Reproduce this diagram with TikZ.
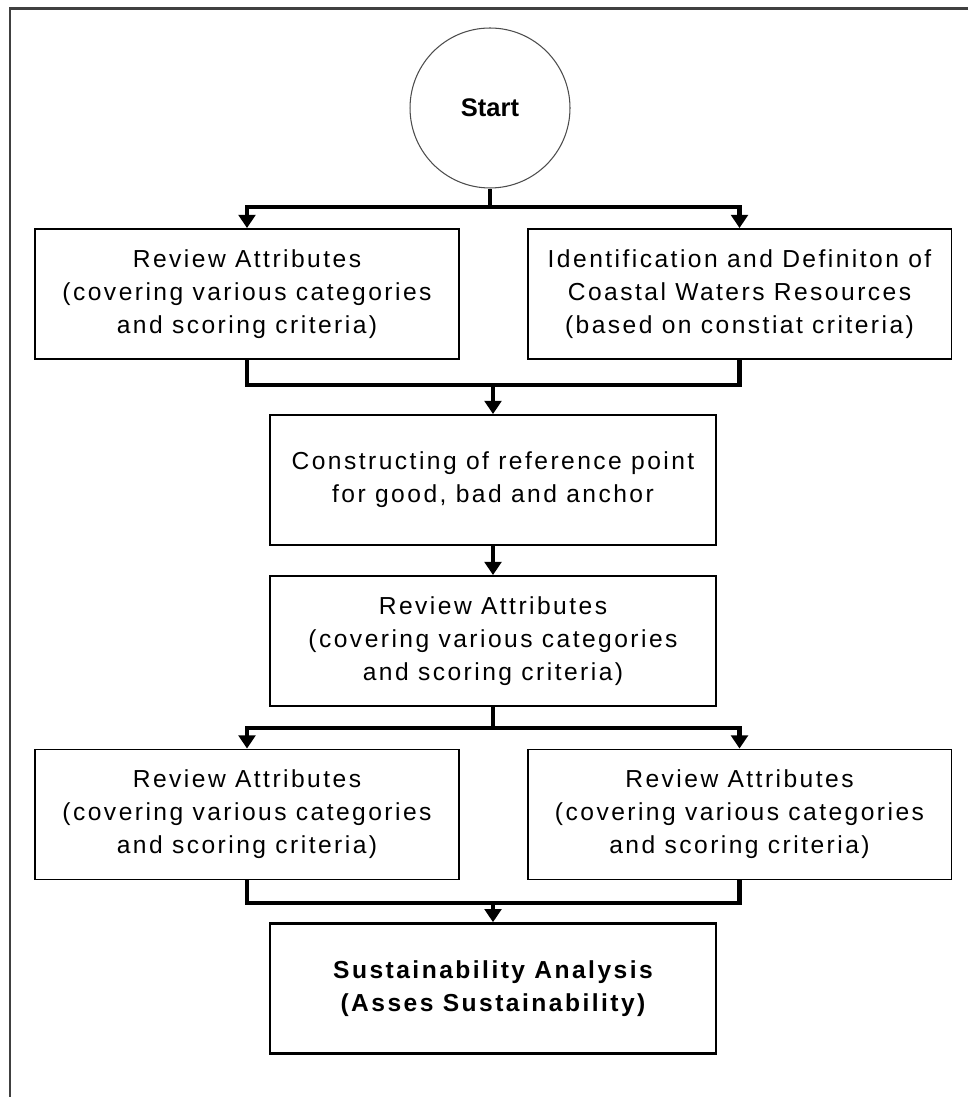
\documentclass[tikz,border=0pt]{standalone}
\usepackage{fontspec}
\setmainfont{Liberation Sans}
\newfontfamily\boxfont[LetterSpace=10]{Liberation Sans}
\newfontfamily\bolddfont[LetterSpace=10]{Liberation Sans}
\usetikzlibrary{arrows.meta}
\tikzset{
  sidebox/.style={draw, line width=1.1pt, minimum width=8.48cm, minimum height=2.6cm, inner sep=0pt, align=center, font=\boxfont\fontsize{14}{18.8}\selectfont},
  midbox/.style={sidebox, minimum width=8.92cm},
  conn/.style={line width=2.3pt, line join=miter},
  arr/.style={conn, -{Triangle[width=9.5pt,length=7.5pt]}},
  frame/.style={line width=1.7pt, draw=black!75}
}
\begin{document}
\begin{tikzpicture}[x=0.02cm,y=-0.02cm]
\useasboundingbox (0,0) rectangle (968,1097);
\draw[frame] (968,9) -- (10,9) -- (10,1097);

\node[circle, draw=black!70, line width=0.6pt, minimum size=3.2cm, inner sep=0pt, font=\bfseries\fontsize{14.5}{16}\selectfont] (start) at (490,108) {Start};

\node[sidebox] (a1) at (247,294) {Review Attributes\\(covering various categories\\and scoring criteria)};
\node[sidebox] (a2) at (739.5,294) {Identification and Definiton of\\Coastal Waters Resources\\(based on constiat criteria)};
\node[midbox] (b) at (493,480) {Constructing of reference point\\for good, bad and anchor};
\node[midbox] (c) at (493,641) {Review Attributes\\(covering various categories\\and scoring criteria)};
\node[sidebox] (d1) at (247,814.5) {Review Attributes\\(covering various categories\\and scoring criteria)};
\node[sidebox] (d2) at (739.5,814.5) {Review Attributes\\(covering various categories\\and scoring criteria)};
\node[midbox, line width=1.5pt, font=\bolddfont\bfseries\fontsize{14}{18.8}\selectfont] (e) at (493,988.5) {Sustainability Analysis\\(Asses Sustainability)};

\coordinate (j1) at (490,207);
\coordinate (j2) at (493,385);
\coordinate (j3) at (493,728);
\coordinate (j4) at (493,903);

\draw[conn] (start.south) -- (j1);
\draw[arr] (j1) -| (a1.north);
\draw[arr] (j1) -| (a2.north);

\draw[conn] (a1.south) |- (j2);
\draw[conn] (a2.south) |- (j2);
\draw[arr] (j2) -- (b.north);

\draw[arr] (b.south) -- (c.north);

\draw[conn] (c.south) -- (j3);
\draw[arr] (j3) -| (d1.north);
\draw[arr] (j3) -| (d2.north);

\draw[conn] (d1.south) |- (j4);
\draw[conn] (d2.south) |- (j4);
\draw[arr] (j4) -- (e.north);
\end{tikzpicture}
\end{document}
